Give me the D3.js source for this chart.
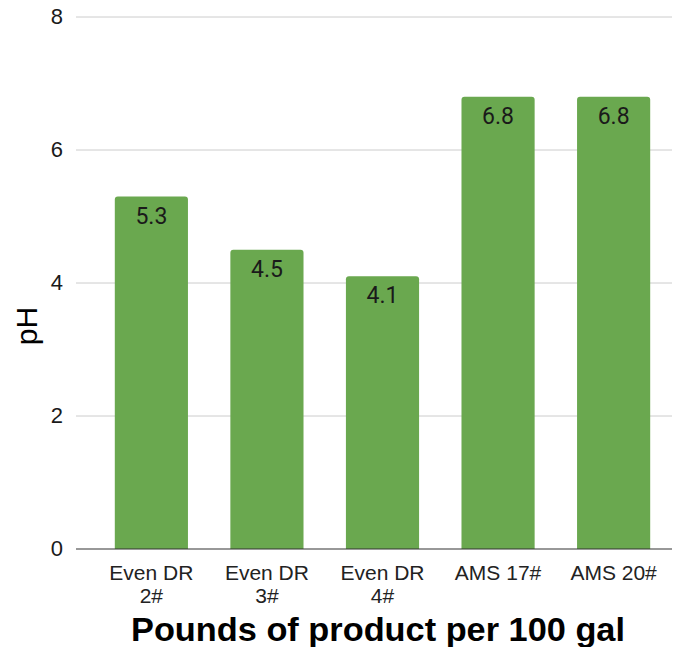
<!DOCTYPE html>
<html>
<head>
<meta charset="utf-8">
<script src="https://cdn.jsdelivr.net/npm/d3@7"></script>
<style>
  body { margin: 0; background: #fff; }
  svg { display: block; font-family: "Liberation Sans", Arial, sans-serif; }
</style>
</head>
<body>
<svg width="680" height="647"></svg>
<script>
const categories = [["Even DR", "2#"], ["Even DR", "3#"], ["Even DR", "4#"], ["AMS 17#"], ["AMS 20#"]];
const phValues = [5.3, 4.5, 4.1, 6.8, 6.8];
const yTicks = [0, 2, 4, 6, 8];

const svg = d3.select("svg");
const data = categories.map((c, i) => ({ key: c.join(" "), lines: c, v: phValues[i] }));

const x = d3.scaleBand().domain(data.map((d) => d.key)).range([94, 671]).paddingInner(0.367).paddingOuter(0.18);
const y = d3.scaleLinear().domain([0, 8]).range([549, 17]);

// gridlines
svg.append("g")
  .selectAll("line")
  .data(yTicks.filter((t) => t !== 0))
  .join("line")
  .attr("x1", 76)
  .attr("x2", 672)
  .attr("y1", (d) => y(d))
  .attr("y2", (d) => y(d))
  .attr("stroke", "#cccccc")
  .attr("stroke-width", 1);

// y tick labels
svg.append("g")
  .selectAll("text")
  .data(yTicks)
  .join("text")
  .attr("x", 63)
  .attr("y", (d) => y(d) + 7)
  .attr("text-anchor", "end")
  .attr("font-size", 22)
  .attr("fill", "#1a1a1a")
  .text((d) => d);

// bars
svg.append("g")
  .selectAll("path")
  .data(data)
  .join("path")
  .attr("d", (d) => {
    const x0 = x(d.key), w = x.bandwidth(), y0 = y(d.v), y1 = y(0), r = 3;
    return `M${x0},${y1}V${y0 + r}Q${x0},${y0} ${x0 + r},${y0}H${x0 + w - r}Q${x0 + w},${y0} ${x0 + w},${y0 + r}V${y1}Z`;
  })
  .attr("fill", "#6aa84f");

// value labels
svg.append("g")
  .selectAll("text")
  .data(data)
  .join("text")
  .attr("x", (d) => x(d.key) + x.bandwidth() / 2)
  .attr("y", (d) => y(d.v) + 27)
  .attr("text-anchor", "middle")
  .attr("font-family", "Roboto, sans-serif")
  .attr("font-size", 23)
  .attr("fill", "#1a1a1a")
  .text((d) => d.v.toFixed(1));

// zero line
svg.append("line")
  .attr("x1", 76)
  .attr("x2", 672)
  .attr("y1", y(0))
  .attr("y2", y(0))
  .attr("stroke", "#333")
  .attr("stroke-width", 1.2);

// x tick labels
const xl = svg.append("g")
  .selectAll("text")
  .data(data)
  .join("text")
  .attr("x", (d) => x(d.key) + x.bandwidth() / 2)
  .attr("y", 580)
  .attr("text-anchor", "middle")
  .attr("font-size", 21)
  .attr("fill", "#222");
xl.selectAll("tspan")
  .data((d) => d.lines.map((l) => ({ l, cx: x(d.key) + x.bandwidth() / 2 })))
  .join("tspan")
  .attr("x", (d) => d.cx)
  .attr("dy", (d, i) => (i === 0 ? 0 : 23))
  .text((d) => d.l);

// axis titles
svg.append("text")
  .attr("x", 378)
  .attr("y", 641)
  .attr("text-anchor", "middle")
  .attr("font-size", 33)
  .attr("font-weight", "bold")
  .attr("fill", "#000")
  .attr("textLength", 494)
  .attr("lengthAdjust", "spacingAndGlyphs")
  .text("Pounds of product per 100 gal");

svg.append("text")
  .attr("transform", "translate(37,326) rotate(-90)")
  .attr("text-anchor", "middle")
  .attr("font-size", 30)
  .attr("fill", "#000")
  .text("pH");
</script>
</body>
</html>
